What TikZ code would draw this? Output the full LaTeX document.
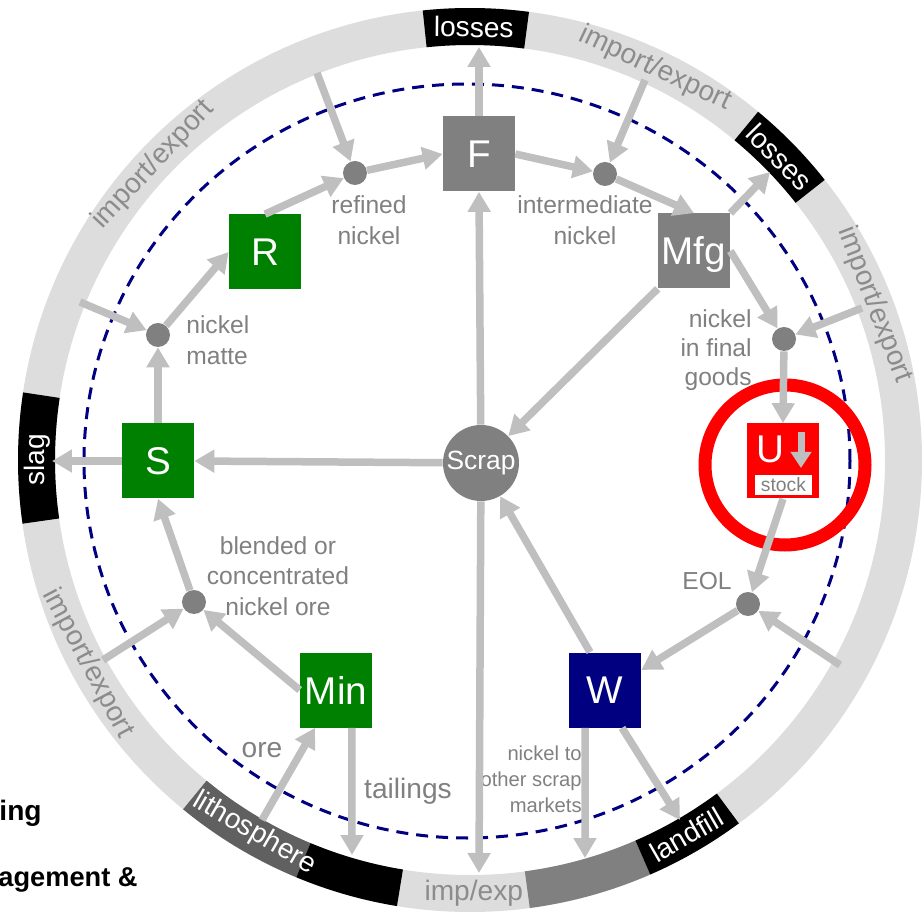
\documentclass[tikz,border=0pt]{standalone}
\usepackage{fontspec}
\setmainfont{Liberation Sans}
\usepackage{tikz}
\usetikzlibrary{positioning,arrows.meta}
\definecolor{flowgray}{RGB}{191,191,191}
\definecolor{ringgray}{RGB}{221,221,221}
\definecolor{boxgray}{RGB}{128,128,128}
\definecolor{lithogray}{RGB}{96,96,96}
\definecolor{textgray}{RGB}{128,128,128}
\definecolor{ringtext}{RGB}{140,140,140}
\definecolor{procgreen}{RGB}{0,128,0}
\definecolor{wastenavy}{RGB}{0,0,128}
\definecolor{usered}{RGB}{255,0,0}
\tikzset{
  arrow/.style={-{Triangle[length=4mm,width=4.4mm]}, line width=1.5mm, draw=flowgray},
  flowlabel/.style={text=textgray, font=\fontsize{14}{17.5}\selectfont, align=center, inner sep=0pt},
  ringlabel/.style={text=ringtext, font=\fontsize{16}{19}\selectfont, inner sep=0pt},
  sinklabel/.style={text=white, font=\fontsize{16}{19}\selectfont, inner sep=0pt},
  boxtext/.style={text=white, font=\fontsize{22}{26}\selectfont, inner sep=0pt, text depth=0pt},
  block/.style={
    boxtext,
    rectangle,
    minimum width=14.4mm,
    minimum height=15mm
  },
  junction/.style={
    circle,
    fill=boxgray,
    minimum size=4.8mm,
    inner sep=0pt
  }
}
\newcommand{\ringseg}[3]{%
  \fill[#3] (#1:415) arc[start angle=#1, end angle=#2, radius=415]
    -- (#2:452) arc[start angle=#2, end angle=#1, radius=452] -- cycle;}

\begin{document}
\begin{tikzpicture}[x=0.2mm, y=0.2mm]
\useasboundingbox (-470,-452) rectangle (452,460);

% Outer ring
\draw[ringgray, line width=7.4mm] (0,0) circle (433.5);
\ringseg{82.5}{96}{black}
\ringseg{38.3}{50.4}{black}
\ringseg{171.4}{188.1}{black}
\ringseg{230.6}{247.4}{lithogray}
\ringseg{247.4}{260.7}{black}
\ringseg{277.6}{293.5}{boxgray}
\ringseg{293.5}{306.5}{black}

% Ring labels
\node[sinklabel, rotate=-0.5] (tLossTop) at (89.5:433) {losses};
\node[sinklabel, rotate=-45.6] (tLossNE) at (44.4:433) {losses};
\node[sinklabel, rotate=90] (tSlag) at (180:433) {slag};
\node[sinklabel, rotate=-30] (tLitho) at (240:431) {lithosphere};
\node[sinklabel, rotate=30] (tLandfill) at (300:433) {landfill};
\node[ringlabel] (tImpExp) at (270.5:433) {imp/exp};
\node[ringlabel, rotate=47] (tIeNW) at (137:433) {import/export};
\node[ringlabel, rotate=-25.3] (tIeNE) at (64.7:433) {import/export};
\node[ringlabel, rotate=-69] (tIeE) at (21:433) {import/export};
\node[ringlabel, rotate=-62] (tIeSW) at (208:433) {import/export};

% System boundary
\draw[wastenavy, line width=0.6mm, dash pattern=on 2.4mm off 1.6mm]
  (-3,-1) ellipse [x radius=383, y radius=377];

% Processes
\node[block, fill=boxgray] (F) at (9,306) {F};
\node[block, fill=boxgray] (Mfg) at (224,209) {Mfg};
\node[block, fill=procgreen] (R) at (-205,208) {R};
\node[block, fill=procgreen] (S) at (-312,-1) {S};
\node[block, fill=procgreen] (Min) at (-134,-230) {Min};
\node[block, fill=wastenavy] (W) at (135,-230) {W};
\node[block, fill=usered] (U) at (313,-1) {};
\node[circle, fill=boxgray, minimum size=15.2mm, inner sep=0pt, text=white,
  font=\fontsize{15}{18}\selectfont] (Scrap) at (11,-3) {Scrap};

% Use phase stock
\node[boxtext] (Utext) at ([xshift=-2.6mm, yshift=2.4mm]U.center) {U};
\coordinate (stockTop) at ([xshift=3.6mm, yshift=5.8mm]U.center);
\coordinate (stockTip) at ([xshift=3.6mm, yshift=-1.4mm]U.center);
\draw[-{Triangle[length=3.2mm,width=4mm]}, line width=1.4mm, draw=flowgray] (stockTop) -- (stockTip);
\node[fill=white, minimum width=11.4mm, minimum height=4mm, inner sep=0pt, text=textgray,
  font=\fontsize{11}{13}\selectfont] (stock) at ([xshift=0.1mm, yshift=-4.8mm]U.center) {stock};
\draw[usered, line width=2.6mm] ([xshift=0.4mm, yshift=-0.8mm]U.center) circle (80);

% Markets
\node[junction] (dRef) at (-115,287) {};
\node[junction] (dInt) at (135,286) {};
\node[junction] (dMat) at (-312,125) {};
\node[junction] (dFin) at (314,121) {};
\node[junction] (dBle) at (-276,-142) {};
\node[junction] (dEol) at (278,-144) {};

% Market labels
\node[flowlabel] (lRef) at (-101,240) {refined\\nickel};
\node[flowlabel] (lInt) at (115,240) {intermediate\\nickel};
\node[flowlabel, anchor=west, align=left] (lMat) at (-284,120) {nickel\\matte};
\node[flowlabel, anchor=east, align=right, font=\fontsize{14}{16.5}\selectfont] (lFin) at (282,110) {nickel\\in final\\goods};
\node[flowlabel] (lBle) at (-192,-116) {blended or\\concentrated\\nickel ore};
\node[flowlabel] (lEol) at (237,-121) {EOL};
\node[flowlabel, anchor=base, font=\fontsize{16}{19}\selectfont] (lOre) at (-208,-297) {ore};
\node[flowlabel, anchor=base, font=\fontsize{16}{19}\selectfont] (lTail) at (-62,-338) {tailings};
\node[flowlabel, anchor=east, align=right, font=\fontsize{11.5}{14.7}\selectfont] (lMkt) at (112,-319) {nickel to\\other scrap\\markets};

% Ring ends
\coordinate (ieNW) at (-153,387);
\coordinate (lossTop) at (9,413);
\coordinate (ieNE) at (175,380);
\coordinate (lossNE) at (300,288);
\coordinate (ieE) at (392,152);
\coordinate (ieSE) at (370,-205);
\coordinate (impExp) at (9,-413);
\coordinate (otherMkt) at (115,-398);
\coordinate (landfill) at (210,-360);
\coordinate (slag) at (-418,-1);
\coordinate (ieW) at (-390,158);
\coordinate (ieSW) at (-367,-200);
\coordinate (litho) at (-208,-360);
\coordinate (tailings) at (-118,-395);

% Flows: mining and smelting
\draw[arrow] (litho) -- ([xshift=-4.2mm]Min.south);
\draw[arrow] ([xshift=3.2mm]Min.south) -- (tailings);
\draw[arrow] (Min.west) -- (dBle);
\draw[arrow] (ieSW) -- (dBle);
\draw[arrow] (dBle) -- (S.south);
\draw[arrow] (S.west) -- (slag);
\draw[arrow] (S.north) -- (dMat);
\draw[arrow] (ieW) -- (dMat);
\draw[arrow] (dMat) -- (R.west);

% Flows: refining, fabrication, manufacturing
\draw[arrow] (R.north) -- (dRef);
\draw[arrow] (ieNW) -- (dRef);
\draw[arrow] (dRef) -- (F.west);
\draw[arrow] (F.north) -- (lossTop);
\draw[arrow] (F.east) -- (dInt);
\draw[arrow] (ieNE) -- (dInt);
\draw[arrow] (dInt) -- (Mfg.north);
\draw[arrow] (Mfg.north east) -- (lossNE);
\draw[arrow] (Mfg.east) -- (dFin);
\draw[arrow] (ieE) -- (dFin);

% Flows: use and waste management
\draw[arrow] (dFin) -- (U.north);
\draw[arrow] (U.south) -- (dEol);
\draw[arrow] (ieSE) -- (dEol);
\draw[arrow] (dEol) -- ([yshift=4mm]W.east);
\draw[arrow] ([xshift=-4mm]W.south) -- (otherMkt);
\draw[arrow] ([xshift=3.4mm]W.south) -- (landfill);

% Flows: scrap
\draw[arrow] ([xshift=-3mm]W.north) -- (Scrap);
\draw[arrow] (Mfg.south west) -- (Scrap);
\draw[arrow] (Scrap) -- (F.south);
\draw[arrow] (Scrap) -- (S.east);
\draw[arrow] (Scrap) -- (impExp);

% Cut-off captions
\node[anchor=base east, inner sep=0pt, font=\bfseries\fontsize{16}{19}\selectfont] (capA) at (-428,-360) {ing};
\node[anchor=base east, inner sep=0pt, font=\bfseries\fontsize{15.5}{19}\selectfont] (capB) at (-332,-426) {agement \&};

\end{tikzpicture}
\end{document}
